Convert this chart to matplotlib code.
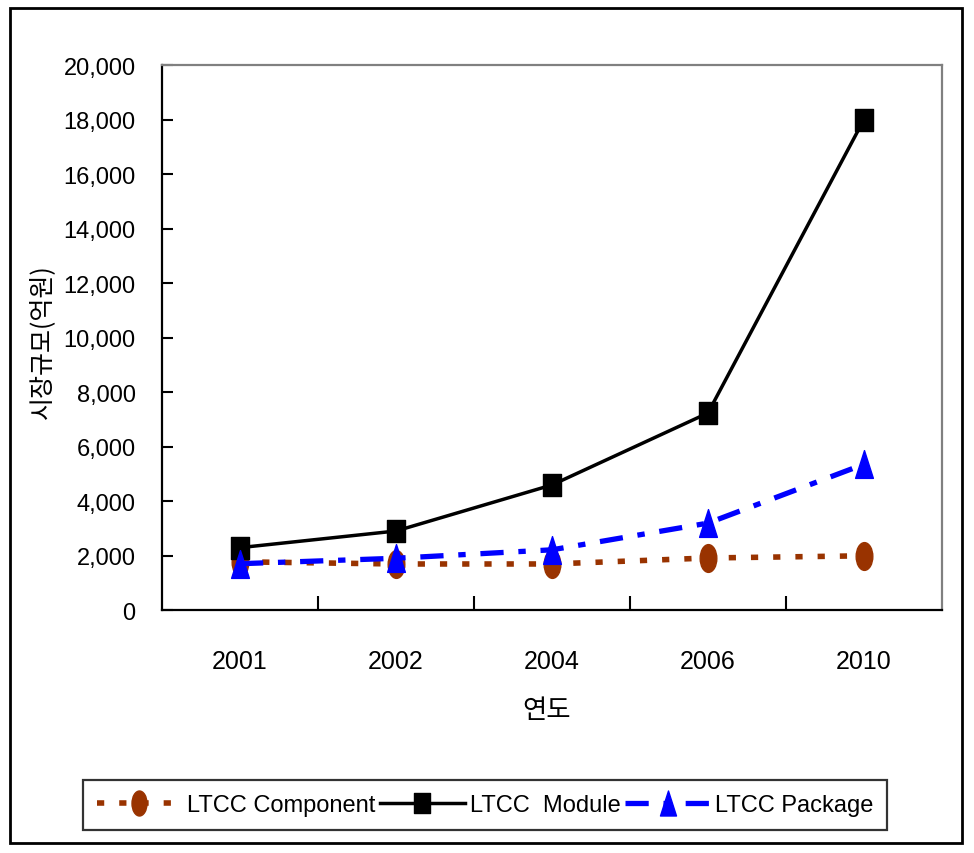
import numpy as np
import matplotlib
matplotlib.use("Agg")
import matplotlib.pyplot as plt
from matplotlib.path import Path
from matplotlib.transforms import Affine2D
from matplotlib.patches import Rectangle
from matplotlib.ticker import FuncFormatter

# Data (unit: 억원)
years = ["2001", "2002", "2004", "2006", "2010"]
component = [1770, 1690, 1690, 1910, 1990]
module = [2290, 2900, 4590, 7230, 18000]
package = [1700, 1900, 2210, 3190, 5350]

NUM_FONT = ["Liberation Sans Narrow", "Liberation Sans", "DejaVu Sans"]
KR_FONT = ["Noto Sans CJK KR", "DejaVu Sans"]
plt.rcParams["font.family"] = NUM_FONT

# Tall markers (the reference is stretched vertically)
ellipse = Path.unit_circle().transformed(Affine2D().scale(0.6, 1.0))
tall_square = Path([(-0.77, -1), (0.77, -1), (0.77, 1), (-0.77, 1), (-0.77, -1)],
                   [Path.MOVETO, Path.LINETO, Path.LINETO, Path.LINETO, Path.CLOSEPOLY])
tall_triangle = Path([(0, 1), (-0.64, -1), (0.64, -1), (0, 1)],
                     [Path.MOVETO, Path.LINETO, Path.LINETO, Path.CLOSEPOLY])

fig = plt.figure(figsize=(9.74, 8.54), dpi=100)
ax = fig.add_axes([0.1663, 0.2845, 0.8008, 0.6382])

x = np.arange(len(years))
ax.plot(x, component, color="#993300", lw=4, linestyle=(0, (1.3, 2.7)),
        marker=ellipse, markersize=20, label="LTCC Component")
ax.plot(x, module, color="black", lw=2.5, linestyle="-",
        marker=tall_square, markersize=16, label="LTCC  Module")
ax.plot(x, package, color="#0000FF", lw=3.8, linestyle=(0, (4.4, 2.8, 1.4, 2.8)),
        marker=tall_triangle, markersize=20, label="LTCC Package")

ax.set_xlim(-0.5, len(years) - 0.5)
ax.set_ylim(0, 20000)

# x axis: labels at category centres, tick marks between categories
ax.set_xticks(x, years)
ax.set_xticks(np.arange(0.5, len(years) - 1, 1.0), minor=True)
ax.tick_params(axis="x", which="major", length=0, pad=28, labelsize=18)
ax.tick_params(axis="x", which="minor", direction="in", length=10, width=1.5)

ax.set_yticks(np.arange(0, 20001, 2000))
ax.yaxis.set_major_formatter(FuncFormatter(lambda v, p: f"{int(v):,}"))
ax.tick_params(axis="y", direction="in", length=8, width=1.5, pad=19, labelsize=17)

for side in ["left", "bottom"]:
    ax.spines[side].set_color("black")
    ax.spines[side].set_linewidth(1.6)
for side in ["top", "right"]:
    ax.spines[side].set_color("#808080")
    ax.spines[side].set_linewidth(1.6)

ax.set_xlabel("연도", fontsize=19, family=KR_FONT)
ax.xaxis.set_label_coords(0.4936, -0.158)
ax.set_ylabel("시장규모(억원)", fontsize=18, family=KR_FONT)
ax.yaxis.set_label_coords(-0.137, 0.494)

leg = fig.legend(loc="center", bbox_to_anchor=(0.498, 0.0562), ncol=3,
                 fontsize=17, frameon=True, fancybox=False, shadow=False,
                 handlelength=3.6, handletextpad=0.2, columnspacing=0.2,
                 borderpad=0.6, borderaxespad=0, markerscale=0.9)
leg.get_frame().set_edgecolor("black")
leg.get_frame().set_linewidth(1.6)

# outer frame around the whole chart
fig.patches.append(Rectangle((10 / 974, 1 - 844 / 854), 952 / 974, 835 / 854,
                             transform=fig.transFigure, fill=False,
                             edgecolor="black", lw=2))

fig.savefig("out.png", dpi=100)
